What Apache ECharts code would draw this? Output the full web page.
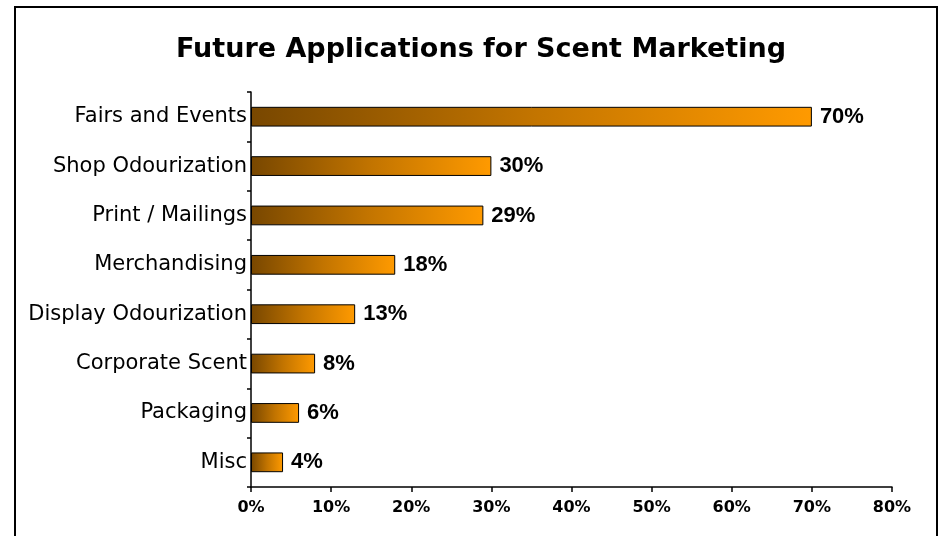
<!DOCTYPE html>
<html>
<head>
<meta charset="utf-8">
<script src="https://cdn.jsdelivr.net/npm/echarts@6/dist/echarts.min.js"></script>
<style>
html,body{margin:0;padding:0;background:#fff;}
#c{width:942px;height:536px;}
</style>
</head>
<body>
<div id="c"></div>
<script>
const categories = ["Fairs and Events","Shop Odourization","Print / Mailings","Merchandising","Display Odourization","Corporate Scent","Packaging","Misc"];
const values = [70,30,29,18,13,8,6,4];
const xTicks = {min:0, max:80, interval:10};
const titleText = "Future Applications for Scent Marketing";

const chart = echarts.init(document.getElementById('c'), null, {renderer:'canvas'});
chart.setOption({
  backgroundColor:'#fff',
  animation:false,
  graphic:[{
    type:'rect', shape:{x:15,y:7,width:922,height:560},
    style:{fill:'none',stroke:'#000',lineWidth:2}, silent:true, z:-1
  }],
  title:{
    text:titleText, left:476, top:31, textAlign:'center',
    textStyle:{fontFamily:'DejaVu Sans',fontWeight:'bold',fontSize:27,color:'#000'}
  },
  grid:{left:251,right:50,top:92,bottom:49,containLabel:false},
  xAxis:{
    type:'value', min:xTicks.min, max:xTicks.max, interval:xTicks.interval,
    axisLine:{show:true,lineStyle:{color:'#000',width:1.5}},
    axisTick:{show:true,length:5,lineStyle:{color:'#000',width:1.5}},
    splitLine:{show:false},
    axisLabel:{formatter:'{value}%',margin:13,color:'#000',fontFamily:'DejaVu Sans',fontWeight:'bold',fontSize:16}
  },
  yAxis:{
    type:'category', data:categories, inverse:true,
    axisLine:{show:true,lineStyle:{color:'#000',width:1.5}},
    axisTick:{show:true,length:4,lineStyle:{color:'#000',width:1.5}},
    axisLabel:{margin:4,color:'#000',fontFamily:'DejaVu Sans',fontSize:21}
  },
  series:[{
    type:'bar', data:values, barWidth:'40%',
    itemStyle:{
      color:new echarts.graphic.LinearGradient(0,0,1,0,[{offset:0,color:'#784700'},{offset:0.5,color:'#c27400'},{offset:1,color:'#ff9a00'}]),
      borderColor:'#000', borderWidth:1
    },
    label:{show:true,position:'right',distance:8,formatter:'{c}%',color:'#000',fontFamily:'Liberation Sans',fontWeight:'bold',fontSize:22}
  }]
});
</script>
</body>
</html>
